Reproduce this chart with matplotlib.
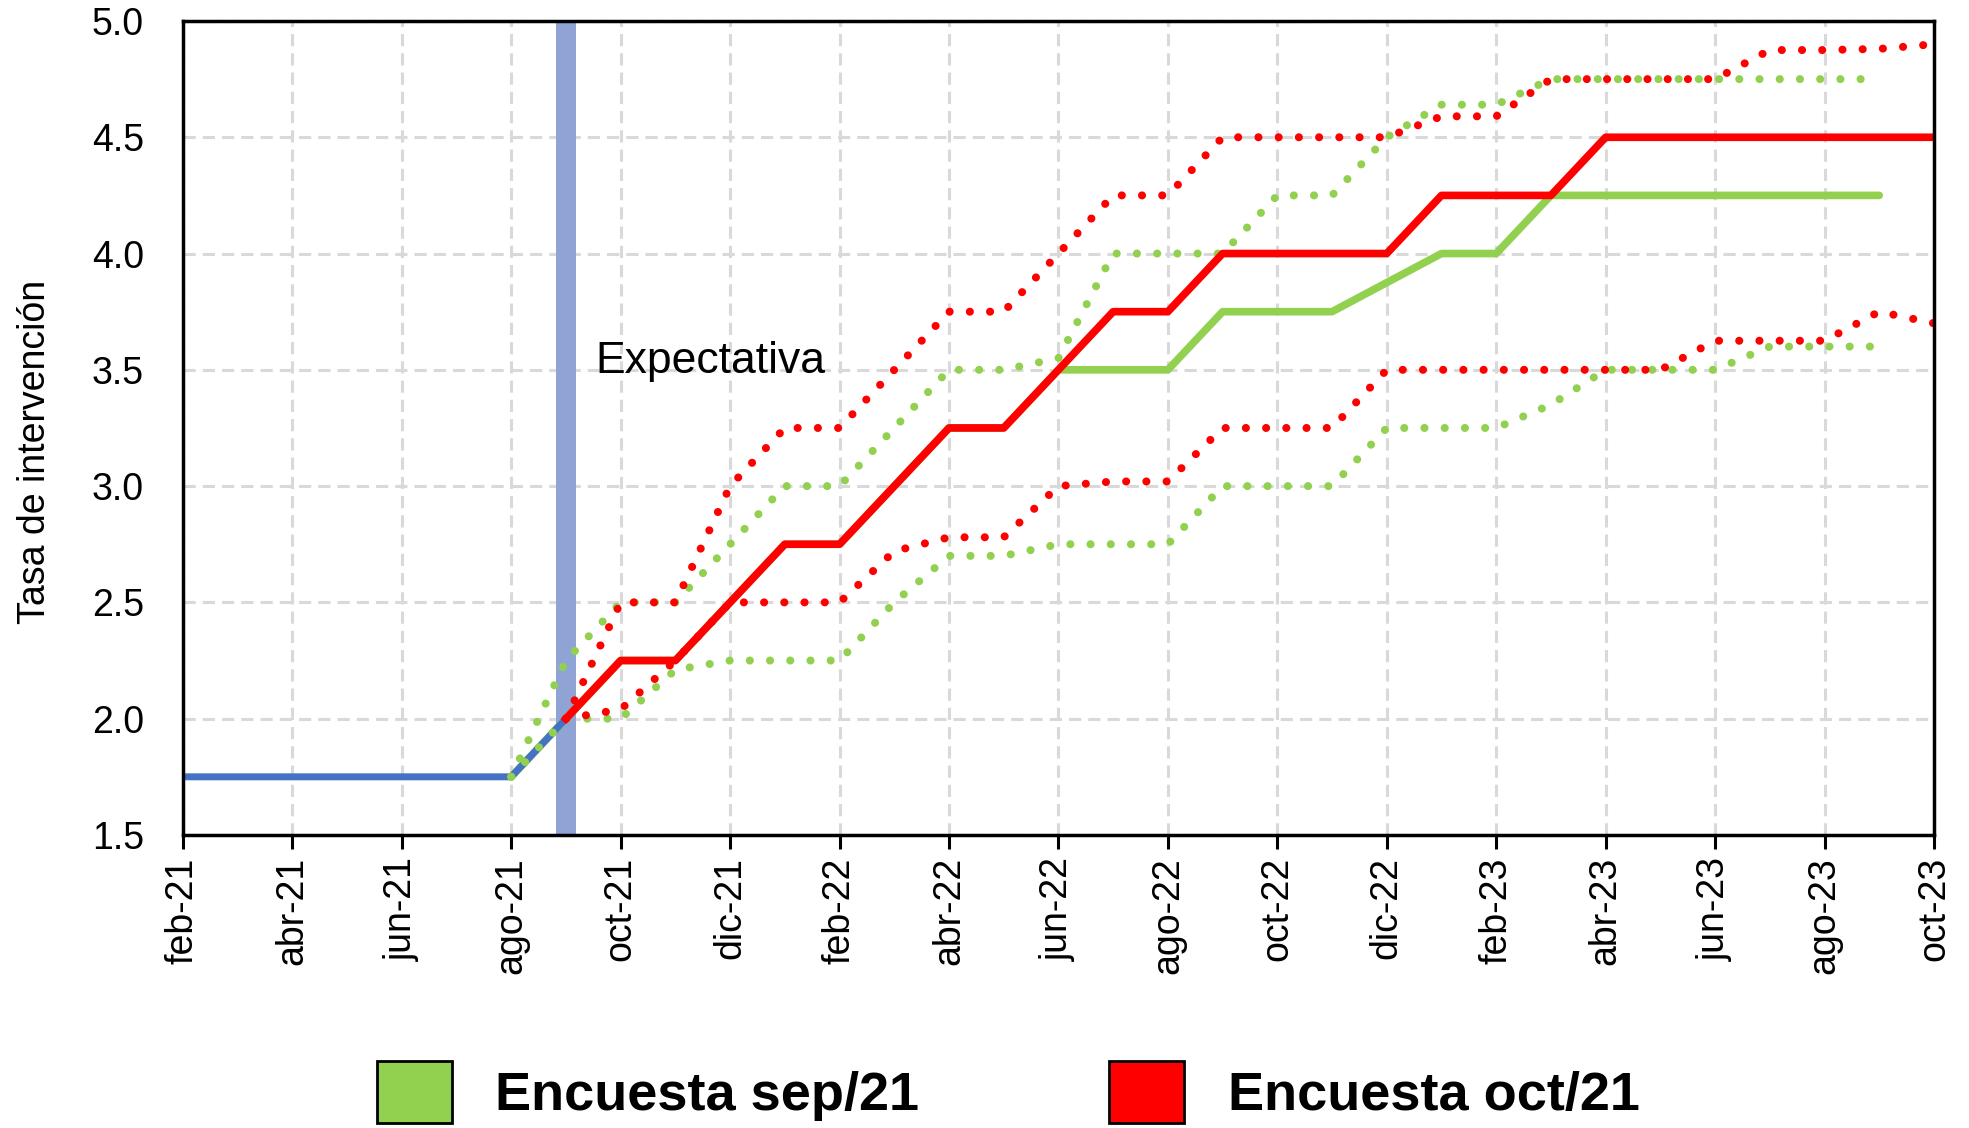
# Expectativas de tasa de intervención: encuestas sep/21 y oct/21

import matplotlib.pyplot as plt
import numpy as np
from matplotlib.patches import Patch

plt.rcParams['font.family'] = ['Liberation Sans', 'DejaVu Sans']

# eje de meses (feb-21 a oct-23)
meses = ['feb-21', 'mar-21', 'abr-21', 'may-21', 'jun-21', 'jul-21', 'ago-21', 'sep-21',
         'oct-21', 'nov-21', 'dic-21', 'ene-22', 'feb-22', 'mar-22', 'abr-22', 'may-22',
         'jun-22', 'jul-22', 'ago-22', 'sep-22', 'oct-22', 'nov-22', 'dic-22', 'ene-23',
         'feb-23', 'mar-23', 'abr-23', 'may-23', 'jun-23', 'jul-23', 'ago-23', 'sep-23',
         'oct-23']

# tasa observada (feb-21 a sep-21)
tasa_observada = [1.75, 1.75, 1.75, 1.75, 1.75, 1.75, 1.75, 2.0]

# Encuesta sep/21 (ago-21 a sep-23)
sep_mediana = [1.75, 2.0, 2.25, 2.25, 2.5, 2.75, 2.75, 3.0, 3.25, 3.25, 3.5, 3.5, 3.5,
               3.75, 3.75, 3.75, 3.875, 4.0, 4.0, 4.25, 4.25, 4.25, 4.25, 4.25, 4.25, 4.25]
sep_superior = [1.75, 2.25, 2.5, 2.5, 2.75, 3.0, 3.0, 3.25, 3.5, 3.5, 3.55, 4.0, 4.0,
                4.0, 4.25, 4.25, 4.5, 4.64, 4.64, 4.75, 4.75, 4.75, 4.75, 4.75, 4.75, 4.75]
sep_inferior = [1.75, 2.0, 2.0, 2.21, 2.25, 2.25, 2.25, 2.5, 2.7, 2.7, 2.75, 2.75, 2.75,
                3.0, 3.0, 3.0, 3.25, 3.25, 3.25, 3.35, 3.5, 3.5, 3.5, 3.6, 3.6, 3.6]

# Encuesta oct/21 (sep-21 a oct-23)
oct_mediana = [2.0, 2.25, 2.25, 2.5, 2.75, 2.75, 3.0, 3.25, 3.25, 3.5, 3.75, 3.75, 4.0,
               4.0, 4.0, 4.0, 4.25, 4.25, 4.25, 4.5, 4.5, 4.5, 4.5, 4.5, 4.5, 4.5]
oct_superior = [2.0, 2.5, 2.5, 3.0, 3.25, 3.25, 3.5, 3.75, 3.75, 4.0, 4.25, 4.25, 4.5,
                4.5, 4.5, 4.5, 4.59, 4.59, 4.75, 4.75, 4.75, 4.75, 4.875, 4.875, 4.88, 4.9]
oct_inferior = [2.0, 2.04, 2.25, 2.5, 2.5, 2.5, 2.72, 2.78, 2.78, 3.0, 3.02, 3.02, 3.25,
                3.25, 3.25, 3.5, 3.5, 3.5, 3.5, 3.5, 3.5, 3.625, 3.625, 3.625, 3.75, 3.7]

VERDE = '#92D050'
ROJO = '#FF0000'
AZUL = '#4472C4'

x = np.arange(len(meses))
i_sep = meses.index('ago-21')
i_oct = meses.index('sep-21')
x_obs = x[:len(tasa_observada)]
x_sep = x[i_sep:i_sep + len(sep_mediana)]
x_oct = x[i_oct:i_oct + len(oct_mediana)]

fig, ax = plt.subplots(figsize=(19.69, 11.28), dpi=100)
fig.subplots_adjust(left=0.0929, right=0.9822, top=0.9814, bottom=0.2598)

ax.grid(True, color='#D9D9D9', linestyle=(0, (4, 2.3)), linewidth=2.2)
ax.set_axisbelow(True)

# franja de la fecha de la encuesta
ax.axvspan(i_oct - 0.19, i_oct + 0.19, color='#8FA3D4', zorder=1.5, lw=0)

punteado = dict(linestyle=(0, (0.01, 2.5)), linewidth=5.8, dash_capstyle='round')

ax.plot(x_sep, sep_mediana, color=VERDE, lw=5.5, zorder=2, solid_capstyle='round')
ax.plot(x_obs, tasa_observada, color=AZUL, lw=5, zorder=3)
ax.plot(x_sep, sep_superior, color=VERDE, zorder=4, **punteado)
ax.plot(x_sep, sep_inferior, color=VERDE, zorder=4, **punteado)
ax.plot(x_oct, oct_mediana, color=ROJO, lw=5.5, zorder=5)
ax.plot(x_oct, oct_superior, color=ROJO, zorder=6, **punteado)
ax.plot(x_oct, oct_inferior, color=ROJO, zorder=6, **punteado)

ax.text(7.53, 3.486, 'Expectativa', fontsize=32, va='baseline')

ax.set_xlim(0, len(meses) - 1)
ax.set_ylim(1.5, 5.0)
ax.set_yticks(np.arange(1.5, 5.01, 0.5))
ax.set_yticklabels(['%.1f' % v for v in np.arange(1.5, 5.01, 0.5)])
ax.set_xticks(x[::2])
ax.set_xticklabels(meses[::2], rotation=90)
ax.tick_params(axis='x', length=10, width=2.2, pad=6, labelsize=27, direction='out')
ax.tick_params(axis='y', length=0, pad=28, labelsize=27)

for s in ax.spines.values():
    s.set_color('black')
    s.set_linewidth(2.5)
    s.set_zorder(7)

ax.set_ylabel('Tasa de intervención', fontsize=27)
ax.yaxis.set_label_coords(-0.074, 0.47)

manijas = [Patch(facecolor=VERDE, edgecolor='black', lw=2),
           Patch(facecolor=ROJO, edgecolor='black', lw=2)]
fig.legend(manijas, ['Encuesta sep/21', 'Encuesta oct/21'], loc='center',
           bbox_to_anchor=(0.512, 0.032), ncol=2, frameon=False,
           prop={'weight': 'bold', 'size': 39}, handlelength=1.39, handleheight=1.4,
           handletextpad=0.8, columnspacing=3.5)

fig.savefig('out.png', dpi=100)
